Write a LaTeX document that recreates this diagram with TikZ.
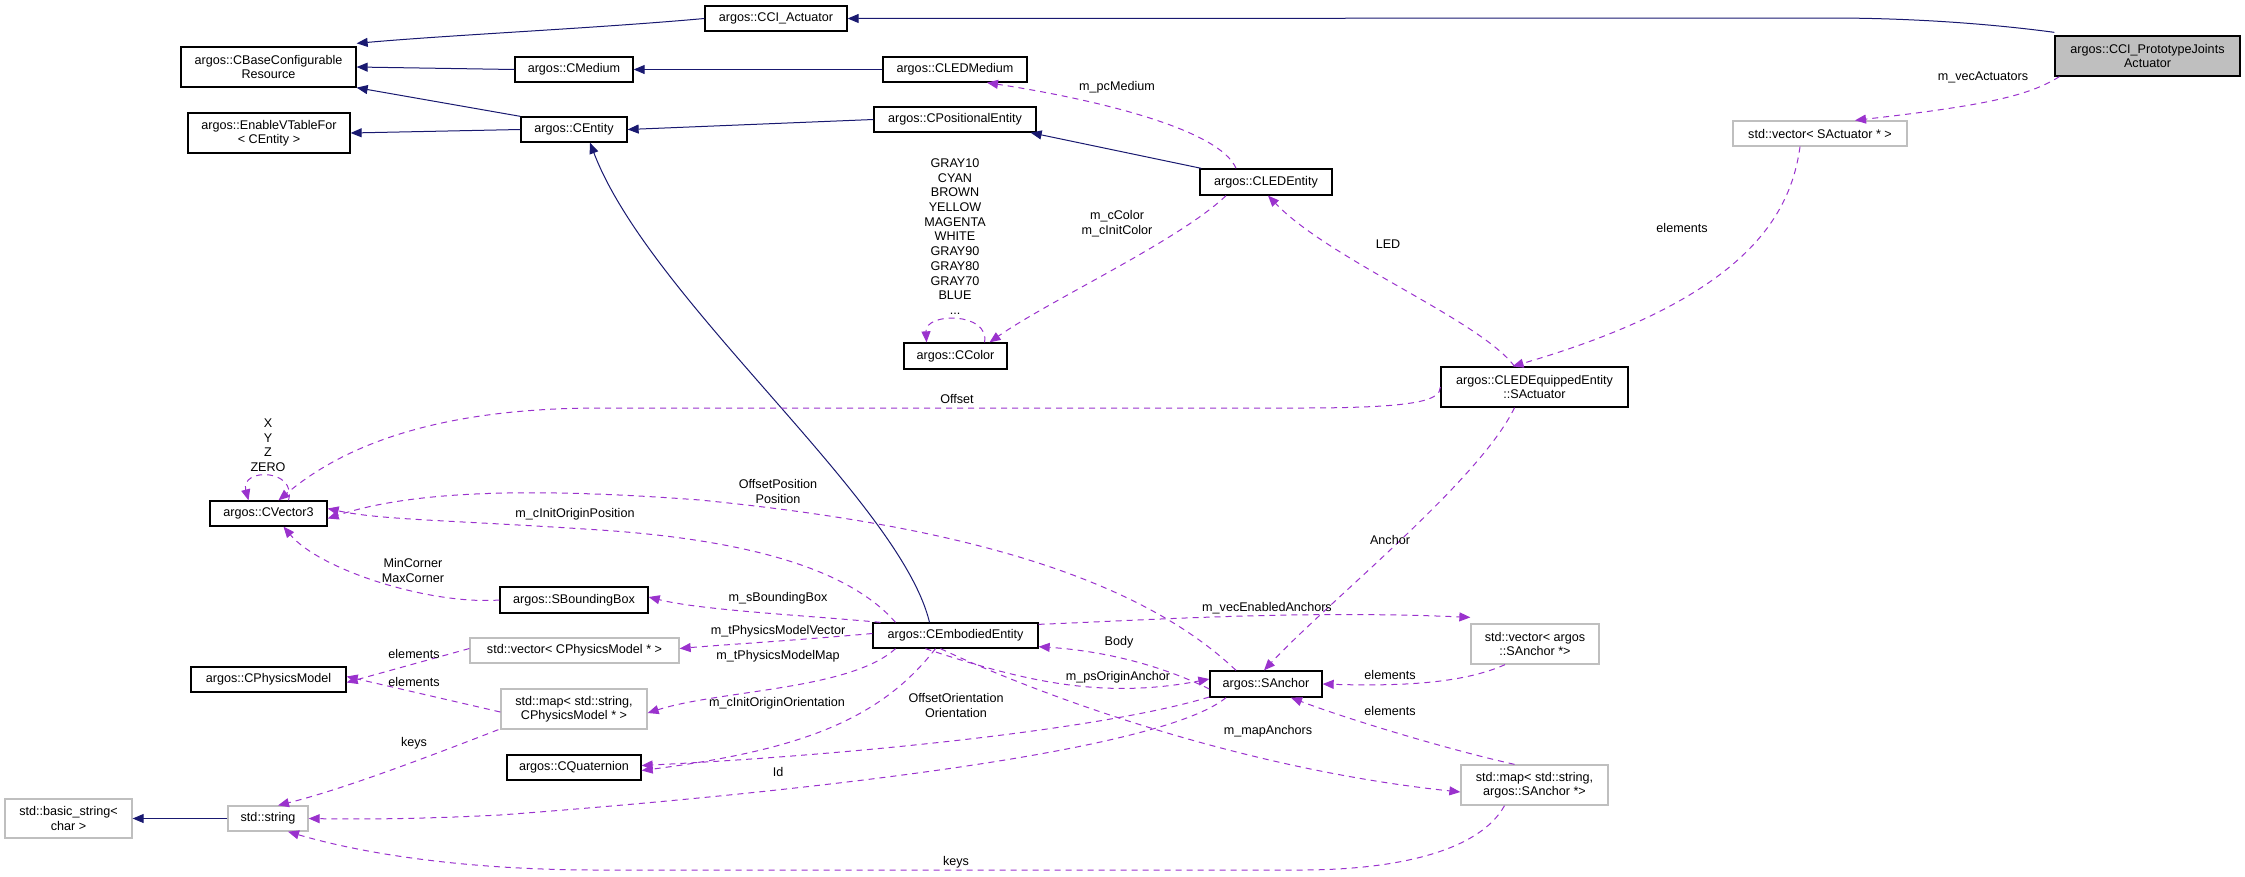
\documentclass[tikz,border=0pt]{standalone}
\usepackage{fontspec}
\setmainfont{Liberation Sans}
\usetikzlibrary{arrows.meta,calc}
\definecolor{inh}{HTML}{191970}
\definecolor{use}{HTML}{9A32CD}
\definecolor{gb}{HTML}{BFBFBF}
\begin{document}
\begin{tikzpicture}[x=1pt,y=-1pt,
  font=\fontsize{12.6}{14.5}\selectfont,
  box/.style={draw=black,line width=1.3pt,fill=white,inner sep=1pt,align=center},
  gbox/.style={draw=gb,line width=1.3pt,fill=white,inner sep=1pt,align=center},
  inhe/.style={draw=inh,line width=1pt,-{Triangle[length=11pt,width=9pt]}},
  usee/.style={draw=use,line width=1pt,dash pattern=on 6pt off 5pt,-{Triangle[length=11pt,width=9pt]}},
  lab/.style={inner sep=0pt,align=center}]
\useasboundingbox (0,0) rectangle (2245,876);
% nodes
\node[box,minimum width=142,minimum height=25] (cciact) at (776,18.5) {argos::CCI\_Actuator};
\node[box,minimum width=175,minimum height=40] (cbase) at (268.5,67) {argos::CBaseConfigurable\\Resource};
\node[box,minimum width=162,minimum height=40] (evt) at (269,133) {argos::EnableVTableFor\\< CEntity >};
\node[box,minimum width=118,minimum height=25] (cmedium) at (574,69.5) {argos::CMedium};
\node[box,minimum width=106,minimum height=25] (centity) at (574,129.5) {argos::CEntity};
\node[box,minimum width=144,minimum height=25] (cledmedium) at (955,69.5) {argos::CLEDMedium};
\node[box,minimum width=162,minimum height=25] (cposent) at (955,119.5) {argos::CPositionalEntity};
\node[box,minimum width=132,minimum height=26] (cledent) at (1266,182) {argos::CLEDEntity};
\node[box,minimum width=103,minimum height=26] (ccolor) at (955.5,356) {argos::CColor};
\node[box,minimum width=187,minimum height=40] (sact) at (1534.5,387) {argos::CLEDEquippedEntity\\::SActuator};
\node[gbox,minimum width=174,minimum height=25] (vecsact) at (1820,133.5) {std::vector< SActuator * >};
\node[box,fill=black!25,minimum width=185,minimum height=40] (proto) at (2147.5,56) {argos::CCI\_PrototypeJoints\\Actuator};
\node[box,minimum width=117,minimum height=25] (cvec3) at (268.5,513.5) {argos::CVector3};
\node[box,minimum width=148,minimum height=26] (sbbox) at (574,600) {argos::SBoundingBox};
\node[gbox,minimum width=209,minimum height=25] (vecpm) at (574.5,650.5) {std::vector< CPhysicsModel * >};
\node[box,minimum width=155,minimum height=25] (cpm) at (268.5,679.5) {argos::CPhysicsModel};
\node[gbox,minimum width=146,minimum height=40] (mappm) at (574,709) {std::map< std::string,\\CPhysicsModel * >};
\node[box,minimum width=134,minimum height=25] (cquat) at (574,767.5) {argos::CQuaternion};
\node[gbox,minimum width=127,minimum height=39] (bstr) at (68.5,818.5) {std::basic\_string<\\char >};
\node[gbox,minimum width=80,minimum height=25] (str) at (268,818.5) {std::string};
\node[box,minimum width=165,minimum height=25] (cemb) at (955.5,635.5) {argos::CEmbodiedEntity};
\node[box,minimum width=112,minimum height=26] (sanchor) at (1266,684) {argos::SAnchor};
\node[gbox,minimum width=128,minimum height=40] (vecanc) at (1535,644) {std::vector< argos\\::SAnchor *>};
\node[gbox,minimum width=147,minimum height=40] (mapanc) at (1534.5,785) {std::map< std::string,\\argos::SAnchor *>};
% inheritance
\draw[inhe] (cciact.west) .. controls (600,28) and (450,35) .. ([yshift=3]cbase.north east);
\draw[inhe] (cmedium.west) -- (cbase.east);
\draw[inhe] (centity.north west) -- (cbase.south east);
\draw[inhe] (centity.west) -- (evt.east);
\draw[inhe] ([yshift=3]proto.north west) .. controls (2000,25) and (1920,18) .. (1830,18) -- (cciact.east);
\draw[inhe] (cledmedium.west) -- (cmedium.east);
\draw[inhe] (cposent.west) -- (centity.east);
\draw[inhe] ([xshift=2]cledent.north west) -- ([xshift=-6]cposent.south east);
\draw[inhe] ([xshift=-26]cemb.north) .. controls (900,500) and (650,300) .. ([xshift=16]centity.south);
\draw[inhe] (str.west) -- (bstr.east);
% usage
\draw[usee] ([xshift=5]proto.south west) .. controls (2030,95) and (1990,105) .. ([xshift=35]vecsact.north);
\draw[usee] ([xshift=-20]vecsact.south) .. controls (1790,220) and (1740,300) .. ([xshift=-22]sact.north);
\draw[usee] ([xshift=-20]sact.north) .. controls (1480,320) and (1330,260) .. ([xshift=2]cledent.south);
\draw[usee] ([xshift=-30]cledent.north) .. controls (1220,130) and (1100,100) .. ([xshift=32]cledmedium.south);
\draw[usee] ([xshift=-40]cledent.south) .. controls (1180,240) and (1050,300) .. ([xshift=34]ccolor.north);
\draw[usee] ([xshift=29]ccolor.north) .. controls (990,312) and (925,312) .. ([xshift=-29]ccolor.north);
\draw[usee] (sact.west) .. controls (1440,400) and (1420,408) .. (1300,408) -- (600,408) .. controls (450,408) and (350,440) .. ([xshift=10]cvec3.north);
\draw[usee] ([xshift=-20]sact.south) .. controls (1480,480) and (1330,600) .. ([xshift=-2]sanchor.north);
\draw[usee] ([xshift=20]cvec3.north) .. controls (297,468) and (240,468) .. ([xshift=-20]cvec3.north);
\draw[usee] ([xshift=-30]sanchor.north) .. controls (1120,560) and (900,520) .. (700,500) .. controls (500,485) and (400,495) .. ([yshift=-5]cvec3.east);
\draw[usee] ([xshift=-60]cemb.north) .. controls (850,570) and (750,540) .. (600,530) .. controls (450,520) and (380,520) .. ([yshift=5]cvec3.east);
\draw[usee] (sbbox.west) .. controls (430,605) and (320,570) .. ([xshift=15]cvec3.south);
\draw[usee] ([xshift=-75]cemb.north) .. controls (800,615) and (700,610) .. ([yshift=3]sbbox.east);
\draw[usee] ([yshift=2]cemb.west) .. controls (800,640) and (720,645) .. ([yshift=2]vecpm.east);
\draw[usee] ([xshift=-60]cemb.south) .. controls (850,690) and (720,690) .. ([yshift=-4]mappm.east);
\draw[usee] ([yshift=2]vecpm.west) -- ([yshift=-3]cpm.east);
\draw[usee] ([yshift=-3]mappm.west) -- ([yshift=3]cpm.east);
\draw[usee] ([xshift=-2]mappm.south west) .. controls (420,760) and (340,790) .. ([xshift=10]str.north);
\draw[usee] ([xshift=-20]cemb.south) .. controls (880,720) and (800,750) .. ([yshift=-3]cquat.east);
\draw[usee] ([xshift=-40]sanchor.west) ++(40,13) .. controls (1100,730) and (850,755) .. ([yshift=2]cquat.east);
\draw[usee] ([xshift=-40]sanchor.south) .. controls (1150,760) and (700,800) .. (500,815) .. controls (400,820) and (340,819) .. (str.east);
\draw[usee] ([yshift=-5]sanchor.west) .. controls (1150,660) and (1090,650) .. ([yshift=2]cemb.south east);
\draw[usee] ([xshift=-30]cemb.south) .. controls (1020,680) and (1100,700) .. ([yshift=5]sanchor.west);
\draw[usee] ([yshift=-2]cemb.north east) .. controls (1150,620) and (1300,610) .. ([yshift=6]vecanc.north west);
\draw[usee] ([xshift=-15]cemb.south) .. controls (1050,700) and (1250,770) .. ([yshift=-7]mapanc.west);
\draw[usee] ([xshift=-30]vecanc.south) .. controls (1470,680) and (1420,687) .. (sanchor.east);
\draw[usee] ([xshift=-20]mapanc.north) .. controls (1450,750) and (1350,720) .. ([xshift=25]sanchor.south);
\draw[usee] ([xshift=-30]mapanc.south) .. controls (1480,850) and (1400,870) .. (1300,870) -- (600,870) .. controls (450,870) and (350,850) .. ([xshift=20]str.south);
% labels
\node[lab] (l1) at (1983,77) {m\_vecActuators};
\node[lab] (l2) at (1682,228) {elements};
\node[lab] (l3) at (1388,244) {LED};
\node[lab] (l4) at (1117,87) {m\_pcMedium};
\node[lab] (l5) at (1117,223.5) {m\_cColor\\m\_cInitColor};
\node[lab,font=\fontsize{12.6}{14.7}\selectfont] (l6) at (955,236.5) {GRAY10\\CYAN\\BROWN\\YELLOW\\MAGENTA\\WHITE\\GRAY90\\GRAY80\\GRAY70\\BLUE\\...};
\node[lab] (l7) at (957,399) {Offset};
\node[lab] (l8) at (1390,540) {Anchor};
\node[lab] (l9) at (268,445) {X\\Y\\Z\\ZERO};
\node[lab] (l10) at (778,491.5) {OffsetPosition\\Position};
\node[lab] (l11) at (575,514) {m\_cInitOriginPosition};
\node[lab] (l12) at (413,570.5) {MinCorner\\MaxCorner};
\node[lab] (l13) at (778,598) {m\_sBoundingBox};
\node[lab] (l14) at (778,631) {m\_tPhysicsModelVector};
\node[lab] (l15) at (778,656) {m\_tPhysicsModelMap};
\node[lab] (l16) at (414,654) {elements};
\node[lab] (l17) at (414,682) {elements};
\node[lab] (l18) at (777,703) {m\_cInitOriginOrientation};
\node[lab] (l19) at (414,743) {keys};
\node[lab] (l20) at (778,772) {Id};
\node[lab] (l21) at (956,705.5) {OffsetOrientation\\Orientation};
\node[lab] (l22) at (1267,608) {m\_vecEnabledAnchors};
\node[lab] (l23) at (1119,642) {Body};
\node[lab] (l24) at (1118,677) {m\_psOriginAnchor};
\node[lab] (l25) at (1390,675) {elements};
\node[lab] (l26) at (1390,711) {elements};
\node[lab] (l27) at (1268,731) {m\_mapAnchors};
\node[lab] (l28) at (956,862) {keys};
\end{tikzpicture}
\end{document}
